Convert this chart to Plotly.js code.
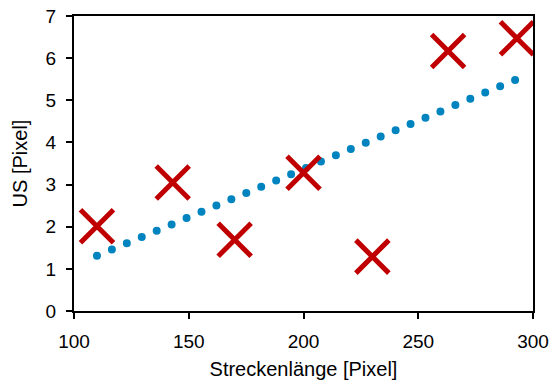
<!DOCTYPE html>
<html>
<head>
<meta charset="utf-8">
<script src="https://cdn.plot.ly/plotly-3.0.1.min.js"></script>
<style>
html,body{margin:0;padding:0;background:#fff;}
</style>
</head>
<body>
<div id="chart" style="width:554px;height:380px;"></div>
<script>
// Measured points
const streckenlaenge = [110, 143, 170, 200, 230, 263, 293];
const usPixel = [2.01, 3.05, 1.69, 3.28, 1.29, 6.17, 6.47];
// Trend line endpoints
const trendX = [110, 293];
const trendY = [1.31, 5.5];
const xTicks = [100, 150, 200, 250, 300];
const yTicks = [0, 1, 2, 3, 4, 5, 6, 7];

const data = [
  {
    x: trendX, y: trendY, type: 'scatter', mode: 'lines',
    line: {color: '#0084C0', width: 8, dash: '0px,16.2px'},
    hoverinfo: 'skip', showlegend: false, cliponaxis: false
  },
  {
    x: streckenlaenge, y: usPixel, type: 'scatter', mode: 'markers',
    marker: {symbol: 'x-thin-open', size: 33, color: '#C00000', line: {color: '#C00000', width: 5}},
    showlegend: false, cliponaxis: false
  }
];

const fam = 'Liberation Sans, Arial, sans-serif';
const tickFont = {family: fam, size: 19, color: '#000'};
const titleFont = {family: fam, size: 20, color: '#000'};
const layout = {
  width: 554, height: 380,
  margin: {l: 74, r: 21, t: 16, b: 69},
  paper_bgcolor: '#fff', plot_bgcolor: '#fff',
  font: tickFont,
  xaxis: {
    range: [100, 300], tickvals: xTicks, ticktext: xTicks.map(String),
    showgrid: false, zeroline: false,
    showline: true, mirror: true, linecolor: '#000', linewidth: 2,
    ticks: 'outside', ticklen: 6, tickwidth: 2, tickcolor: '#000',
    ticklabelstandoff: 6,
    tickfont: tickFont,
    title: {text: 'Streckenlänge [Pixel]', font: titleFont, standoff: 13}
  },
  yaxis: {
    range: [0, 7], tickvals: yTicks, ticktext: yTicks.map(String),
    showgrid: false, zeroline: false,
    showline: true, mirror: true, linecolor: '#000', linewidth: 2,
    ticks: 'outside', ticklen: 6, tickwidth: 2, tickcolor: '#000',
    ticklabelstandoff: 6,
    tickfont: tickFont,
    title: {text: 'US [Pixel]', font: titleFont, standoff: 13}
  }
};

Plotly.newPlot('chart', data, layout, {displayModeBar: false, staticPlot: true}).then(function(){
  document.querySelectorAll('.scatterlayer .trace:first-child .js-line').forEach(function(p){
    p.style.strokeLinecap = 'round';
  });
});
</script>
</body>
</html>
